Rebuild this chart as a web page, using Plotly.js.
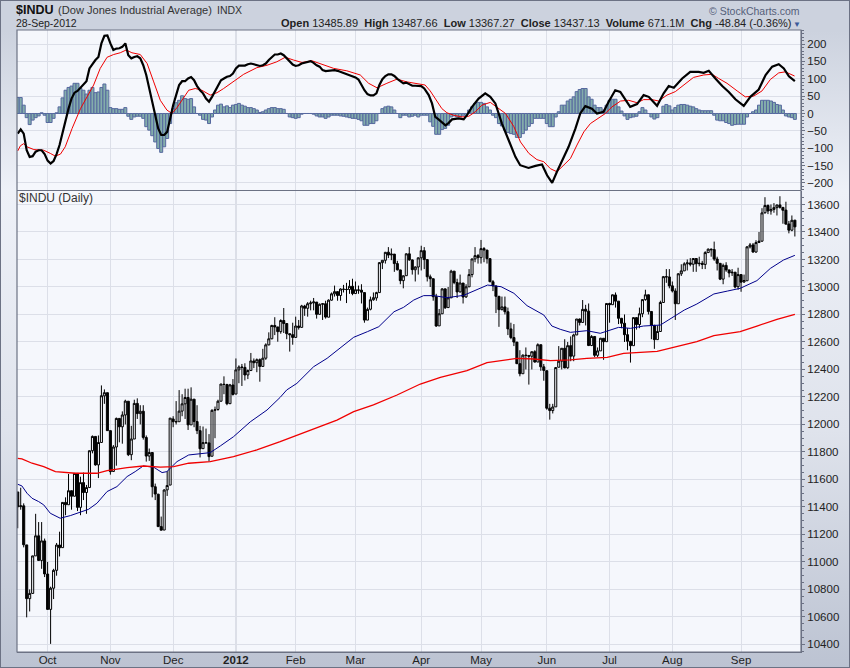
<!DOCTYPE html>
<html><head><meta charset="utf-8">
<script src="https://cdn.plot.ly/plotly-3.0.1.min.js"></script>
<style>
html,body{margin:0;padding:0;background:#ccd2de;}
#frame{position:relative;width:848px;height:666px;border:1px solid #6c7284;
background:linear-gradient(180deg,#ccd2de 0,#ccd2de 30px,#eef1f8 190px,#dfe3ec 430px,#bcc3d2 100%);}
#chart{position:absolute;left:-1px;top:-1px;width:850px;height:668px;}
</style></head><body>
<div id="frame"><div id="chart"></div></div>
<script>
// Daily OHLC, 19-Sep-2011 to 28-Sep-2012 (trading-day order)
const opens=[11509,11402,11408,11124,10733,10771,11044,11190,11011,11153,
10912,10655,10809,10939,11123,11104,11433,11416,11518,11478,11644,11397,11577,11505,11541,11809,11913,11706,11869,12208,12231,
11955,11658,11836,12044,11983,12069,12169,11780,11894,12153,12079,12096,11905,11770,11796,11547,11493,11257,11232,11524,11559,
12040,12021,12020,12097,12150,12196,11997,12184,12021,11955,11824,11868,11866,11769,12103,12109,12169,12292,12291,12151,12287,
12221,12397,12418,12415,12360,12392,12462,12449,12471,12422,12482,12579,12623,12720,12709,12675,12756,12734,12660,12653,
12633,12716,12706,12861,12845,12878,12884,12890,12801,12874,12878,12780,12904,12950,12966,12938,12983,12981,12982,13005,
12952,12978,12977,12959,12759,12838,12907,12920,12959,13177,13194,13253,13233,13239,13170,13124,13046,13082,13241,13197,13125,13145,
13212,13264,13199,13074,13060,12929,12717,12805,12986,12850,12921,13115,13032,12964,13028,12928,13001,13090,13204,13228,
13213,13279,13268,13206,13038,13007,12932,12835,12855,12820,12695,12632,12599,12442,12369,12504,12502,12496,12529,12454,12580,12419,
12391,12118,12101,12128,12416,12460,12554,12412,12573,12497,12651,12767,12742,12838,12824,12574,12640,12503,12535,12627,12602,
12880,12871,12942,12897,12772,12736,12653,12605,12573,12777,12727,12805,12908,12943,12822,12721,12617,12676,12887,13075,13073,
13008,12971,12878,13096,13117,13168,13175,13165,13207,13169,13172,13164,13250,13275,13272,13203,13172,13057,13157,13124,13103,13107,13002,
13090,13036,13045,13292,13306,13254,13323,13333,13540,13593,13553,13564,13577,13597,13579,13559,13458,13413,13485.89];
const highs=[11509,11540,11426,11124,10800,11045,11350,11290,11290,11170,
11000,10820,10950,11138,11220,11434,11470,11640,11520,11645,11645,11620,11650,11560,11810,11920,11914,11920,12284,12255,12231,
11955,11850,12050,12044,12095,12180,12169,11990,12180,12190,12140,12140,11920,11825,11796,11570,11495,11330,11530,11660,12046,
12060,12170,12250,12220,12260,12260,12270,12184,12140,11990,11985,11970,11930,12110,12130,12180,12295,12350,12295,12295,12330,
12480,12430,12440,12445,12400,12520,12480,12480,12480,12550,12590,12670,12725,12780,12710,12765,12847,12735,12660,12740,
12784,12760,12870,12870,12890,12900,12920,12890,12880,12880,12900,12910,12960,13010,12970,12990,13015,13030,13050,13060,
13040,13010,13020,12960,12850,12930,12960,12965,13180,13195,13255,13290,13280,13240,13190,13125,13085,13245,13290,13200,13150,13215,
13300,13290,13200,13090,13060,12950,12840,12990,12990,13000,13125,13115,13060,13090,13030,13020,13130,13205,13290,13240,
13342,13290,13270,13206,13050,13010,12935,12930,12930,12850,12740,12730,12600,12540,12510,12560,12505,12530,12540,12590,12580,12440,
12391,12150,12150,12415,12570,12555,12620,12600,12640,12660,12767,12770,12905,12870,12880,12650,12640,12560,12630,12627,12880,
12885,12945,12960,12897,12775,12800,12700,12605,12780,12780,12850,12910,12980,12945,12825,12725,12720,12900,13080,13130,13130,
13040,12990,13100,13165,13180,13200,13210,13210,13210,13220,13190,13260,13280,13280,13330,13220,13172,13170,13180,13125,13130,13110,13140,
13090,13090,13295,13320,13320,13340,13400,13573,13653,13600,13600,13610,13600,13660,13580,13620,13480,13520,13487.66];
const lows=[11245,11380,11106,10597,10640,10771,11044,11008,10950,10890,
10654,10404,10730,10900,11040,11104,11340,11416,11380,11480,11370,11340,11450,11350,11541,11790,11700,11610,11869,12150,11955,
11635,11658,11700,11870,11860,12000,11770,11740,11894,12040,12000,11890,11730,11735,11470,11450,11255,11231,11232,11480,11559,
11980,12000,12020,12060,12040,11960,11997,11980,11930,11760,11824,11860,11730,11769,11900,12100,12169,12220,12140,12150,12210,
12221,12300,12280,12320,12330,12392,12410,12380,12311,12422,12470,12575,12620,12650,12602,12660,12665,12620,12530,12580,
12633,12690,12706,12790,12784,12830,12830,12770,12800,12760,12770,12780,12900,12930,12900,12900,12960,12883,12950,12940,
12950,12950,12880,12740,12759,12830,12900,12900,12959,13130,13170,13210,13195,13110,13120,13020,12990,13082,13190,13090,13040,13090,
13120,13130,13040,13000,12900,12710,12717,12805,12840,12850,12920,13020,12920,12960,12880,12920,13000,13070,13180,13170,
13170,13180,13170,13035,12970,12810,12710,12830,12800,12650,12620,12570,12440,12350,12369,12400,12290,12400,12450,12454,12390,12318,
12107,12035,12080,12128,12416,12400,12410,12405,12460,12460,12650,12720,12742,12720,12570,12570,12490,12490,12535,12470,12602,
12740,12870,12850,12730,12700,12600,12540,12450,12573,12690,12700,12780,12900,12800,12620,12550,12617,12676,12887,13030,12990,
12960,12760,12878,13080,13117,13120,13150,13110,13110,13150,13130,13130,13250,13220,13190,13120,13050,13020,13110,13070,13080,12990,12980,
12965,13030,13045,13280,13250,13250,13320,13330,13533,13530,13526,13540,13520,13570,13460,13457,13390,13405,13367.27];
const closes=[11401,11408,11125,10733,10771,11044,11190,11011,11153,10913,
10655,10809,10939,11123,11103,11433,11416,11518,11478,11644,11397,11577,11505,11541,11809,11913,11706,11869,12209,12231,11955,
11657,11836,12044,11983,12069,12170,11780,11894,12153,12079,12096,11906,11770,11796,11547,11494,11257,11231,11523,11556,12046,
12020,12019,12097,12150,12196,11997,12184,12021,11955,11823,11868,11866,11766,12103,12107,12169,12294,12291,12151,12288,12218,
12397,12418,12415,12360,12392,12462,12449,12471,12422,12482,12579,12623,12720,12709,12675,12756,12734,12660,12653,12633,
12716,12706,12862,12845,12878,12884,12891,12801,12874,12878,12781,12904,12950,12966,12938,12985,12983,12982,13005,12952,
12980,12977,12962,12759,12837,12907,12922,12959,13177,13194,13252,13232,13239,13170,13125,13046,13081,13241,13197,13126,13145,13212,
13264,13199,13074,13060,12929,12716,12805,12986,12849,12921,13115,13032,12964,13029,12927,13001,13090,13204,13228,13213,
13279,13269,13206,13038,13008,12932,12835,12855,12820,12695,12632,12599,12442,12369,12504,12502,12496,12529,12454,12580,12419,12393,
12118,12101,12127,12414,12460,12554,12411,12573,12496,12651,12767,12742,12837,12824,12574,12640,12503,12535,12627,12602,12880,
12871,12943,12897,12772,12736,12653,12605,12573,12777,12727,12805,12908,12943,12822,12721,12617,12676,12887,13075,13073,13008,
12971,12878,13096,13117,13168,13175,13165,13207,13169,13172,13164,13250,13275,13271,13203,13172,13057,13157,13124,13102,13107,13000,13090,
13035,13047,13292,13306,13254,13323,13333,13539,13593,13553,13564,13577,13596,13579,13558,13457,13413,13485,13437.13];

// Moving averages
const ma50Days=[0,1.4,3.1,4.8,7,8.7,10.9,14.2,17.6,20.9,23.7,26.5,29.9,33.2,36.6,39.3,42,45.5,48.3,49.9,53.3,57.2,61.1,64.4,67.8,72.2,77.8,83.4,87.8,90,93.4,99,103.5,109,112.4,117,120.8,125.9,129.1,132.5,135.8,139.2,143.6,149.2,153.8,157.2,161.7,166,170.4,176,178.7,181.5,184.9,190.4,194.9,198.3,201,205,209.4,215,218.5,223,227.2,232.9,237.4,241.7,247.3,251.8,256.2,260];
const ma50=[11565,11553,11500,11463,11439,11415,11354,11318,11337,11359,11383,11427,11512,11548,11621,11657,11698,11689,11650,11657,11730,11778,11790,11795,11844,11911,12019,12105,12197,12251,12299,12420,12481,12578,12634,12675,12711,12820,12852,12905,12937,12937,12922,12939,12983,13014,13002,12954,12864,12796,12716,12692,12670,12682,12663,12687,12706,12699,12716,12723,12772,12832,12876,12949,12970,12990,13046,13135,13196,13230];
const ma200Days=[0,1.4,4.8,8.7,12.6,19.3,26.5,29.9,36.6,42,47.7,52.2,57.2,64.4,72.2,80,87.8,97,106.8,112.4,119,126.9,134.7,141.4,150.3,157,163.7,167,172.6,178.2,184.9,190.4,197.2,202.7,213.9,219.5,227.2,232.9,241.7,247.3,254,260];
const ma200=[11754,11749,11718,11693,11657,11645,11645,11664,11686,11698,11689,11693,11718,11730,11766,11815,11875,11950,12032,12093,12142,12214,12294,12343,12391,12450,12474,12481,12476,12464,12469,12481,12488,12517,12532,12561,12602,12646,12675,12716,12764,12801];

// MACD panel
const macdHead=[-58,-46,-58,-106,-125,-123,-110,-106,-106,-117,-136,-144,-137,-117,-91,-53,-19,14,43,60,65,75,82,93,130,144,154,163,202,224,225,202,183,187,188,192,202,168,159,163,165,159,139,111,72,38,0,-43,-62,-62,-53,-10,24,53,82,93,93,101,105,96,79,67,58,43,34,48,63,82,96,101,106,108,115,130,138,138,138,142,144,142,139,137,139,144,154,163,170,170,173,168,159,149,141,137,139,144,147,149,151,146,139,135,125,122,123,123,125,123,120,118,115,112,108,104,98,82,67,56,52,52,58,82,99,108,113,113,108,100,93,87,89,84,80,80,79,79,72];
const macdTailDays=[137.5,138.6,139.7,140.8,141.9,143.1,144.2,145.3,147.5,149.2,150.3,152,154.2,156.4,158.1,159.8,162,164.3,166.5,168.1,170.9,173.2,175.4,177.1,178.8,180.4,182.1,184.3,186.6,188.2,189.9,192.1,193.8,196,197.7,199.9,201.6,203.3,204.9,207.2,209.4,211.1,213.9,216.1,217.8,219.5,222.3,225,227.8,229.5,231.2,233.4,235.7,237.9,240.1,242.9,245.1,247.9,250.2,252.4,254.6,256.3,258,260];
const macdTail=[53,29,-10,-17,-24,-34,-27,-17,-14,-17,-5,19,43,58,48,29,-29,-77,-125,-149,-157,-151,-147,-178,-200,-168,-135,-96,-43,0,21,14,0,5,34,67,62,38,19,27,53,48,22,58,79,74,101,120,120,117,123,101,79,62,41,22,48,69,111,135,142,130,107,93];
const signalDays=[0,0.9,2,3.1,5.4,8.7,10.9,12.6,14.3,15.9,18.2,21,23.2,25.4,27.6,29.9,32.1,34.3,36.3,38.2,41,43.3,45.5,47.7,49.9,51.6,53.3,55,57.2,59.4,61.6,64.4,66.7,68.9,72.2,75.6,80,83.4,86.7,89.5,92.3,95.1,98.4,102.3,105.7,110.1,114.6,117.4,120.2,123.5,126.9,130.2,133.6,136.3,138,139.7,141.9,143.6,145.8,148.6,150.9,153.1,155.3,158.1,160.3,163.2,166,168.2,171,173.7,176,178.2,180.4,182.7,184.9,187.1,189.4,191.6,193.8,196.6,198.8,201.7,204.4,207.2,209.4,212.2,214.4,217.2,220,222.8,226.1,229.5,232.3,234.5,237.3,240.7,243.4,246.2,249,251.8,254.6,256.8,259.9];
const signal=[-108,-93,-87,-96,-104,-106,-115,-123,-117,-96,-43,14,48,82,130,162,170,175,183,175,170,144,91,38,10,0,17,40,67,72,67,53,60,72,91,113,132,139,149,162,154,147,152,141,130,123,111,87,74,87,99,91,87,82,65,43,14,2,-5,-10,-8,5,24,32,19,0,-38,-82,-115,-133,-139,-159,-168,-149,-130,-91,-53,-29,-17,0,19,36,38,31,40,40,36,53,63,82,104,111,113,101,87,65,48,50,65,98,117,120,108];
const histogram=[46,46,24,-12,-32,-19,-12,-7,2,-5,-26,-26,-14,2,19,45,67,75,79,87,87,72,67,56,67,75,60,62,75,85,67,17,14,14,12,12,17,-8,-17,-10,-8,-8,-14,-38,-48,-64,-82,-101,-112,-96,-72,-29,14,31,38,51,43,41,43,19,0,-5,-17,-19,-29,-10,10,24,27,19,22,17,24,26,29,24,21,17,17,14,10,3,5,10,14,17,17,14,14,12,0,-10,-12,-14,-12,-2,0,0,0,-2,-7,-10,-10,-14,-10,-5,-5,-5,-7,-8,-10,-12,-14,-14,-17,-21,-34,-34,-29,-29,-21,0,14,19,21,19,10,0,-12,-5,-5,-10,-8,-5,-10,-5,-5,
-5,-24,-37,-60,-60,-46,-43,-34,-10,-7,-10,-10,-5,-5,10,19,29,32,32,29,19,10,-5,-12,-29,-36,-48,-55,-58,-60,-69,-69,-58,-48,-37,-29,-14,-14,-14,-14,-29,-38,-38,-10,5,24,24,36,41,48,63,69,72,72,48,41,24,17,17,10,24,38,41,41,19,7,-7,-17,-12,-10,-8,5,17,10,0,-10,-16,-12,0,21,26,22,10,17,24,26,26,24,21,19,14,10,8,8,8,8,-5,-19,-21,-21,-26,-29,-34,-32,-31,-31,-31,-10,0,5,10,24,38,38,38,36,32,26,24,10,-7,-10,-12,-17];

// Axis labels
const monthDays=[10,31,52,73,93,113,135,155,177,198,219,242];
const monthLabels=['Oct','Nov','Dec','<b>2012</b>','Feb','Mar','Apr','May','Jun','Jul','Aug','Sep'];
const priceTicks=[10400,10600,10800,11000,11200,11400,11600,11800,12000,12200,12400,12600,12800,13000,13200,13400,13600];
const macdTicks=[-200,-150,-100,-50,0,50,100,150,200];

const days=opens.map((_,i)=>i);
const macdDays=macdHead.map((_,i)=>i).concat(macdTailDays);
const macd=macdHead.concat(macdTail);

const FONT='"Liberation Sans",Arial,sans-serif';
const W=850,H=668,L=17,R=800.7,T=30,B=652;
const px=x=>(x-L)/(R-L), py=y=>(B-y)/(B-T);
const note=(x,y,text,size,color,anchor)=>({xref:'paper',yref:'paper',x:px(x),y:py(y),text:text,showarrow:false,
  xanchor:anchor||'left',yanchor:'middle',align:anchor||'left',font:{family:FONT,size:size,color:color||'#222'},borderpad:0,borderwidth:0});

const traces=[
 {type:'bar',x:days,y:histogram,xaxis:'x2',yaxis:'y2',width:1,marker:{color:'#83adab',line:{color:'#56689f',width:1}},hoverinfo:'skip',showlegend:false},
 {type:'scatter',mode:'lines',x:signalDays,y:signal,xaxis:'x2',yaxis:'y2',line:{color:'#f00000',width:1},hoverinfo:'skip',showlegend:false},
 {type:'scatter',mode:'lines',x:macdDays,y:macd,xaxis:'x2',yaxis:'y2',line:{color:'#000',width:2.2},hoverinfo:'skip',showlegend:false},
 {type:'candlestick',x:days,open:opens,high:highs,low:lows,close:closes,xaxis:'x',yaxis:'y',whiskerwidth:0,
  increasing:{line:{color:'#000',width:1},fillcolor:'rgba(0,0,0,0)'},
  decreasing:{line:{color:'#000',width:1},fillcolor:'#000'},hoverinfo:'skip',showlegend:false},
 {type:'scatter',mode:'lines',x:ma50Days,y:ma50,xaxis:'x',yaxis:'y',line:{color:'#00008b',width:1},hoverinfo:'skip',showlegend:false},
 {type:'scatter',mode:'lines',x:ma200Days,y:ma200,xaxis:'x',yaxis:'y',line:{color:'#f00000',width:1.3},hoverinfo:'skip',showlegend:false}
];
const axisFont={family:FONT,size:11.5,color:'#222'};
const xr=[-0.24,262.05];
const layout={
 width:W,height:H,autosize:false,margin:{l:L,r:W-R,t:T,b:H-B,pad:0},
 paper_bgcolor:'rgba(0,0,0,0)',plot_bgcolor:'#f5f7fc',boxgap:0.02,boxmode:'overlay',bargap:0,showlegend:false,
 xaxis:{domain:[0,1],range:xr,anchor:'y',tickmode:'array',tickvals:monthDays,ticktext:monthLabels,tickfont:axisFont,showgrid:true,gridcolor:'#dcdfe8',gridwidth:1,
   rangeslider:{visible:false},ticks:'',ticklabelstandoff:-3,zeroline:false,showline:true,linecolor:'#6c7284',linewidth:1,mirror:false},
 xaxis2:{domain:[0,1],range:xr,anchor:'y2',tickmode:'array',tickvals:monthDays,showticklabels:false,showgrid:true,gridcolor:'#dcdfe8',gridwidth:1,ticks:'',zeroline:false,rangeslider:{visible:false}},
 yaxis:{domain:[0,(B-191)/(B-T)],range:[10345,13698],side:'right',anchor:'x',tickmode:'array',tickvals:priceTicks,tickfont:axisFont,
   showgrid:true,gridcolor:'#dcdfe8',gridwidth:1,zeroline:false,ticks:'outside',ticklen:3,tickcolor:'#6c7284',showline:true,linecolor:'#6c7284',linewidth:1,tickformat:'d',
   minor:{ticks:'outside',dtick:50,ticklen:2,tickcolor:'#6c7284',showgrid:false}},
 yaxis2:{domain:[(B-190)/(B-T),1],range:[-220.5,240.6],side:'right',anchor:'x2',tickmode:'array',tickvals:macdTicks,tickfont:axisFont,
   showgrid:true,gridcolor:'#dcdfe8',gridwidth:1,zeroline:false,ticks:'outside',ticklen:3,tickcolor:'#6c7284',showline:true,linecolor:'#6c7284',linewidth:1,tickformat:'d',
   minor:{ticks:'outside',dtick:10,ticklen:2,tickcolor:'#6c7284',showgrid:false}},
 shapes:[
  {type:'line',xref:'x',yref:'paper',x0:monthDays[3],x1:monthDays[3],y0:0,y1:1,line:{color:'#b9bdc9',width:1},layer:'below'},
  {type:'line',xref:'paper',yref:'paper',x0:0,x1:1,y0:py(190.5),y1:py(190.5),line:{color:'#6c7284',width:1.2}},
  {type:'rect',xref:'paper',yref:'paper',x0:0,x1:1,y0:0,y1:1,line:{color:'#6c7284',width:1.2},fillcolor:'rgba(0,0,0,0)'}
 ],
 annotations:[
  note(16,10,'<b>$INDU</b>',12.5,'#111'),
  note(58,10,'(Dow Jones Industrial Average)',11.1,'#333'),
  note(217,10,'INDX',10.5,'#333'),
  note(16,23.5,'28-Sep-2012',10.5,'#222'),
  note(791,23.5,'<b>Open</b> 13485.89  <b>High</b> 13487.66  <b>Low</b> 13367.27  <b>Close</b> 13437.13  <b>Volume</b> 671.1M  <b>Chg</b> -48.84 (-0.36%)',11,'#222','right'),
  note(793,24,'▼',8,'#3b5a9a'),
  note(800,10.5,'© StockCharts.com',10.5,'#55607a','right'),
  note(19,197.5,'$INDU (Daily)',12,'#333')
 ]
};
Plotly.newPlot('chart',traces,layout,{staticPlot:true,displayModeBar:false});
</script>
</body></html>
